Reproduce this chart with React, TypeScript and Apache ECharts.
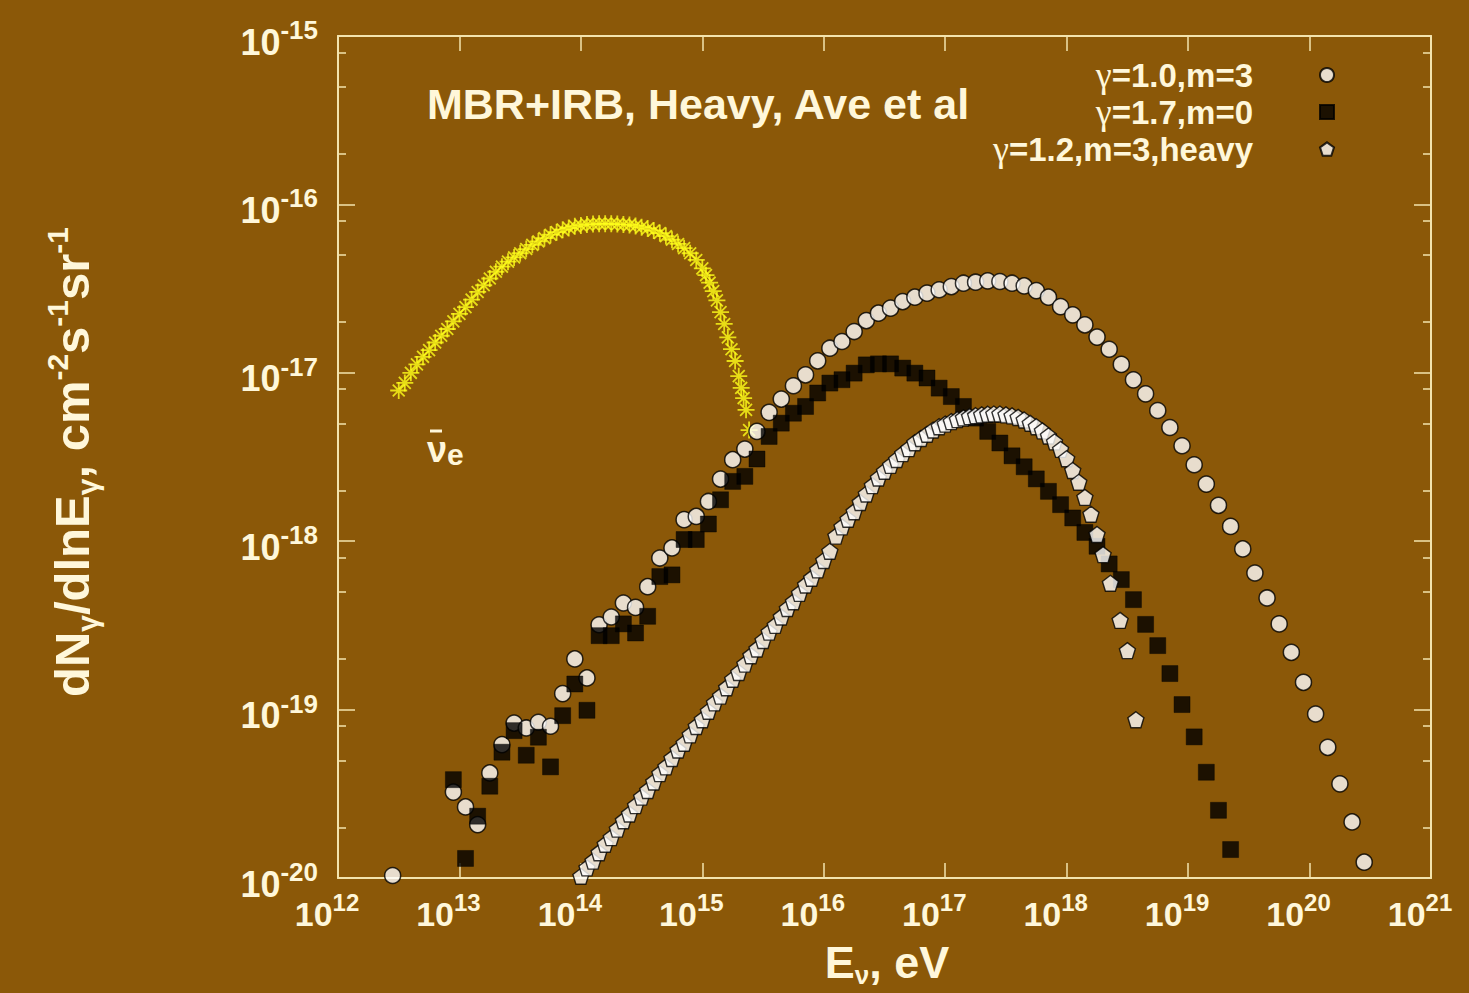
import React, { useEffect, useRef } from 'react';
import * as echarts from 'echarts';

const BG = '#8b5808';
const FG = '#fff7da';
const FRAME = '#f3e4ae';
const FONT = '"Liberation Sans", Arial, Helvetica, sans-serif';
const SERIF = '"Liberation Serif", "DejaVu Serif", serif';

// Axis tick exponents
const xTickExponents = [12, 13, 14, 15, 16, 17, 18, 19, 20, 21];
const yTickExponents = [-20, -19, -18, -17, -16, -15];
const yMinorFactors = [2, 5, 8];

// Series names
const nameA = 'γ=1.0,m=3';
const nameB = 'γ=1.7,m=0';
const nameC = 'γ=1.2,m=3,heavy';

// anti-electron neutrino curve (log10 E/eV, log10 flux)
const nuebarLogE = [12.5, 12.55, 12.6, 12.65, 12.7, 12.75, 12.8, 12.85, 12.9, 12.95, 13.0, 13.05, 13.1, 13.15, 13.2, 13.25, 13.3, 13.35, 13.4, 13.45, 13.5, 13.55, 13.6, 13.65, 13.7, 13.75, 13.8, 13.85, 13.9, 13.95, 14.0, 14.05, 14.1, 14.15, 14.2, 14.25, 14.3, 14.35, 14.4, 14.45, 14.5, 14.55, 14.6, 14.65, 14.7, 14.75, 14.8, 14.85, 14.9, 14.95, 15.0, 15.03, 15.06, 15.09, 15.12, 15.15, 15.18, 15.21, 15.24, 15.27, 15.3, 15.32, 15.34, 15.36, 15.385];
const nuebarLogFlux = [-17.105, -17.06, -17.0, -16.95, -16.905, -16.865, -16.82, -16.78, -16.74, -16.695, -16.65, -16.61, -16.565, -16.52, -16.48, -16.44, -16.4, -16.37, -16.34, -16.315, -16.29, -16.265, -16.24, -16.22, -16.2, -16.18, -16.165, -16.15, -16.14, -16.13, -16.125, -16.12, -16.117, -16.115, -16.115, -16.115, -16.117, -16.12, -16.122, -16.128, -16.135, -16.143, -16.155, -16.17, -16.188, -16.21, -16.235, -16.26, -16.29, -16.33, -16.38, -16.42, -16.465, -16.515, -16.57, -16.64, -16.71, -16.79, -16.86, -16.93, -17.02, -17.09, -17.15, -17.22, -17.34];

// gamma=1.0, m=3
const aLogE = [12.45, 12.95, 13.05, 13.15, 13.25, 13.35, 13.45, 13.55, 13.65, 13.75, 13.85, 13.95, 14.05, 14.15, 14.25, 14.35, 14.45, 14.55, 14.65, 14.75, 14.85, 14.95, 15.05, 15.15, 15.25, 15.35, 15.45, 15.55, 15.65, 15.75, 15.85, 15.95, 16.05, 16.15, 16.25, 16.35, 16.45, 16.55, 16.65, 16.75, 16.85, 16.95, 17.05, 17.15, 17.25, 17.35, 17.45, 17.55, 17.65, 17.75, 17.85, 17.95, 18.05, 18.15, 18.25, 18.35, 18.45, 18.55, 18.65, 18.75, 18.85, 18.95, 19.05, 19.15, 19.25, 19.35, 19.45, 19.55, 19.65, 19.75, 19.85, 19.95, 20.05, 20.15, 20.25, 20.35, 20.45];
const aLogFlux = [-19.985, -19.49, -19.578, -19.683, -19.376, -19.208, -19.08, -19.109, -19.075, -19.099, -18.905, -18.699, -18.812, -18.496, -18.45, -18.367, -18.393, -18.27, -18.1, -18.04, -17.872, -17.853, -17.764, -17.631, -17.516, -17.453, -17.348, -17.235, -17.156, -17.077, -17.012, -16.929, -16.854, -16.814, -16.755, -16.69, -16.646, -16.616, -16.577, -16.551, -16.527, -16.507, -16.488, -16.468, -16.462, -16.454, -16.458, -16.468, -16.484, -16.512, -16.551, -16.607, -16.656, -16.715, -16.788, -16.86, -16.95, -17.042, -17.125, -17.224, -17.325, -17.433, -17.546, -17.661, -17.787, -17.912, -18.046, -18.189, -18.337, -18.491, -18.66, -18.838, -19.026, -19.224, -19.441, -19.667, -19.906];

// gamma=1.7, m=0
const bLogE = [12.95, 13.05, 13.15, 13.25, 13.35, 13.45, 13.55, 13.65, 13.75, 13.85, 13.95, 14.05, 14.15, 14.25, 14.35, 14.45, 14.55, 14.65, 14.75, 14.85, 14.95, 15.05, 15.15, 15.25, 15.35, 15.45, 15.55, 15.65, 15.75, 15.85, 15.95, 16.05, 16.15, 16.25, 16.35, 16.45, 16.55, 16.65, 16.75, 16.85, 16.95, 17.05, 17.15, 17.25, 17.35, 17.45, 17.55, 17.65, 17.75, 17.85, 17.95, 18.05, 18.15, 18.25, 18.35, 18.45, 18.55, 18.65, 18.75, 18.85, 18.95, 19.05, 19.15, 19.25, 19.35];
const bLogFlux = [-19.416, -19.884, -19.633, -19.455, -19.253, -19.125, -19.271, -19.164, -19.34, -19.036, -18.848, -19.004, -18.561, -18.561, -18.491, -18.545, -18.446, -18.21, -18.2, -17.99, -17.99, -17.898, -17.754, -17.645, -17.615, -17.512, -17.378, -17.299, -17.24, -17.2, -17.12, -17.061, -17.041, -17.002, -16.953, -16.947, -16.947, -16.972, -17.002, -17.031, -17.091, -17.141, -17.2, -17.269, -17.348, -17.417, -17.493, -17.558, -17.63, -17.704, -17.783, -17.862, -17.948, -18.03, -18.135, -18.228, -18.347, -18.494, -18.62, -18.786, -18.97, -19.162, -19.372, -19.598, -19.831];

// gamma=1.2, m=3, heavy
const cLogE = [14.0, 14.05, 14.1, 14.15, 14.2, 14.25, 14.3, 14.35, 14.4, 14.45, 14.5, 14.55, 14.6, 14.65, 14.7, 14.75, 14.8, 14.85, 14.9, 14.95, 15.0, 15.05, 15.1, 15.15, 15.2, 15.25, 15.3, 15.35, 15.4, 15.45, 15.5, 15.55, 15.6, 15.65, 15.7, 15.75, 15.8, 15.85, 15.9, 15.95, 16.0, 16.05, 16.1, 16.15, 16.2, 16.25, 16.3, 16.35, 16.4, 16.45, 16.5, 16.55, 16.6, 16.65, 16.7, 16.75, 16.8, 16.85, 16.9, 16.95, 17.0, 17.05, 17.1, 17.15, 17.2, 17.25, 17.3, 17.35, 17.4, 17.45, 17.5, 17.55, 17.6, 17.65, 17.7, 17.75, 17.8, 17.85, 17.9, 17.95, 18.0, 18.05, 18.1, 18.15, 18.2, 18.25, 18.3, 18.36, 18.44, 18.5, 18.57];
const cLogFlux = [-19.99, -19.94, -19.9, -19.85, -19.8, -19.76, -19.71, -19.66, -19.62, -19.57, -19.52, -19.48, -19.43, -19.38, -19.34, -19.29, -19.24, -19.2, -19.15, -19.1, -19.06, -19.01, -18.96, -18.92, -18.87, -18.82, -18.78, -18.73, -18.68, -18.64, -18.59, -18.54, -18.5, -18.45, -18.4, -18.36, -18.31, -18.26, -18.22, -18.17, -18.115, -18.06, -17.97, -17.915, -17.87, -17.825, -17.77, -17.72, -17.67, -17.625, -17.585, -17.55, -17.515, -17.48, -17.45, -17.415, -17.39, -17.365, -17.34, -17.32, -17.305, -17.29, -17.278, -17.268, -17.26, -17.255, -17.25, -17.246, -17.245, -17.245, -17.25, -17.256, -17.265, -17.28, -17.3, -17.32, -17.345, -17.375, -17.41, -17.455, -17.51, -17.58, -17.65, -17.74, -17.84, -17.96, -18.08, -18.25, -18.47, -18.65, -19.06];

const toPoints = (le: number[], lf: number[]) => le.map((e, i) => [Math.pow(10, e), Math.pow(10, lf[i])]);

const minorTickExponents: number[] = [];
yTickExponents.slice(0, -1).forEach((p) => yMinorFactors.forEach((f) => minorTickExponents.push(p + Math.log10(f))));

const powLabel = (v: number) => '{b|10}{s|' + Math.round(Math.log10(v)) + '}';
const richX = {
  b: { fontSize: 34, fontWeight: 'bold', lineHeight: 48, color: FG, fontFamily: FONT },
  s: { fontSize: 24, fontWeight: 'bold', lineHeight: 22, verticalAlign: 'top', color: FG, fontFamily: FONT },
};
const richY = {
  b: { fontSize: 36, fontWeight: 'bold', lineHeight: 50, color: FG, fontFamily: FONT },
  s: { fontSize: 26, fontWeight: 'bold', lineHeight: 24, verticalAlign: 'top', color: FG, fontFamily: FONT },
};

const PENTAGON = 'path://M0,-10L9.51,-3.09L5.88,8.09L-5.88,8.09L-9.51,-3.09Z';
const ASTERISK = 'path://M0,-10L0,10M-10,0L10,0M-7,-7L7,7M-7,7L7,-7';

const legendRowsY = [71, 108, 145];

export default function App() {
  const ref = useRef<HTMLDivElement>(null);
  useEffect(() => {
    const chart = echarts.init(ref.current!, null, { renderer: 'svg' });
    const logAxisBase = {
      type: 'log',
      logBase: 10,
      axisLine: { show: true, onZero: false, lineStyle: { color: FRAME, width: 2 } },
      axisTick: { show: true, inside: true, lineStyle: { color: FRAME, width: 1.5 } },
      splitLine: { show: false },
      minorTick: { show: false },
    };
    const legendRich = {
      g: { fontFamily: SERIF, fontSize: 36, fontWeight: 'normal', color: FG },
      t: { fontFamily: FONT, fontSize: 33, fontWeight: 'bold', color: FG },
    };
    const option: any = {
      animation: false,
      backgroundColor: BG,
      textStyle: { fontFamily: FONT },
      grid: { left: 338, top: 36, width: 1093, height: 842, containLabel: false },
      xAxis: [
        {
          ...logAxisBase,
          min: Math.pow(10, xTickExponents[0]),
          max: Math.pow(10, xTickExponents[xTickExponents.length - 1]),
          splitNumber: xTickExponents.length - 1,
          position: 'bottom',
          axisTick: { ...logAxisBase.axisTick, length: 15 },
          axisLabel: { show: true, formatter: powLabel, rich: richX, color: FG, margin: 12, padding: [0, 22, 0, 0] },
        },
        {
          ...logAxisBase,
          min: Math.pow(10, xTickExponents[0]),
          max: Math.pow(10, xTickExponents[xTickExponents.length - 1]),
          splitNumber: xTickExponents.length - 1,
          position: 'top',
          axisTick: { ...logAxisBase.axisTick, length: 15 },
          axisLabel: { show: false },
        },
      ],
      yAxis: [
        {
          ...logAxisBase,
          min: Math.pow(10, yTickExponents[0]),
          max: Math.pow(10, yTickExponents[yTickExponents.length - 1]),
          splitNumber: yTickExponents.length - 1,
          position: 'left',
          axisTick: { ...logAxisBase.axisTick, length: 17 },
          axisLabel: { show: true, formatter: powLabel, rich: richY, color: FG, margin: 20, padding: [12, 0, 0, 0] },
        },
        {
          ...logAxisBase,
          min: Math.pow(10, yTickExponents[0]),
          max: Math.pow(10, yTickExponents[yTickExponents.length - 1]),
          splitNumber: yTickExponents.length - 1,
          position: 'right',
          axisTick: { ...logAxisBase.axisTick, length: 17 },
          axisLabel: { show: false },
        },
        {
          type: 'value',
          min: yTickExponents[0],
          max: yTickExponents[yTickExponents.length - 1],
          position: 'left',
          axisLine: { show: false },
          axisTick: { show: true, inside: true, length: 8, customValues: minorTickExponents, lineStyle: { color: FRAME, width: 1.5 } },
          axisLabel: { show: false },
          splitLine: { show: false },
        },
        {
          type: 'value',
          min: yTickExponents[0],
          max: yTickExponents[yTickExponents.length - 1],
          position: 'right',
          axisLine: { show: false },
          axisTick: { show: true, inside: true, length: 8, customValues: minorTickExponents, lineStyle: { color: FRAME, width: 1.5 } },
          axisLabel: { show: false },
          splitLine: { show: false },
        },
      ],
      legend: [nameA, nameB, nameC].map((n, i) => ({
        data: [n],
        orient: 'vertical',
        align: 'right',
        right: 129,
        top: legendRowsY[i] - 19,
        itemWidth: 14,
        itemHeight: 14,
        selectedMode: false,
        formatter: (name: string) => '{g|' + name.charAt(0) + '}{t|' + name.slice(1) + '}',
        textStyle: { color: FG, fontSize: 33, fontWeight: 'bold', fontFamily: FONT, padding: [0, 62, 0, 0], rich: legendRich },
      })),
      series: [
        {
          name: 'nuebar_e',
          type: 'scatter',
          symbol: ASTERISK,
          symbolSize: 17,
          itemStyle: { color: 'rgba(0,0,0,0)', borderColor: '#ffff1a', borderWidth: 1.8 },
          data: toPoints(nuebarLogE, nuebarLogFlux),
        },
        {
          name: nameA,
          type: 'scatter',
          symbol: 'circle',
          symbolSize: 16,
          itemStyle: { color: '#ffffff', borderColor: '#000000', borderWidth: 1.5 },
          data: toPoints(aLogE, aLogFlux),
        },
        {
          name: nameB,
          type: 'scatter',
          symbol: 'rect',
          symbolSize: 16,
          itemStyle: { color: '#000000', borderColor: '#000000', borderWidth: 0.5 },
          data: toPoints(bLogE, bLogFlux),
        },
        {
          name: nameC,
          type: 'scatter',
          symbol: PENTAGON,
          symbolSize: 16,
          itemStyle: { color: '#ffffff', borderColor: '#000000', borderWidth: 1.4 },
          data: toPoints(cLogE, cLogFlux),
        },
      ],
      graphic: [
        {
          type: 'text',
          x: 427,
          y: 104,
          style: { text: 'MBR+IRB, Heavy, Ave et al', fill: FG, font: 'bold 43px ' + FONT, align: 'left', verticalAlign: 'middle' },
        },
        {
          type: 'line',
          shape: { x1: 430, y1: 431, x2: 442, y2: 431 },
          style: { stroke: FG, lineWidth: 3 },
        },
        {
          type: 'text',
          x: 427,
          y: 449,
          style: {
            text: '{v|ν}{e|e}',
            align: 'left',
            verticalAlign: 'middle',
            rich: {
              v: { fontSize: 36, fontWeight: 'bold', fill: FG, fontFamily: FONT, lineHeight: 40 },
              e: { fontSize: 30, fontWeight: 'bold', fill: FG, fontFamily: FONT, lineHeight: 26, verticalAlign: 'bottom' },
            },
          },
        },
        {
          type: 'text',
          x: 887,
          y: 962,
          style: {
            text: '{b|E}{s|ν}{b|, eV}',
            align: 'center',
            verticalAlign: 'middle',
            rich: {
              b: { fontSize: 45, fontWeight: 'bold', fill: FG, fontFamily: FONT, lineHeight: 52 },
              s: { fontSize: 26, fontWeight: 'bold', fill: FG, fontFamily: FONT, lineHeight: 22, verticalAlign: 'bottom' },
            },
          },
        },
        {
          type: 'text',
          x: 72,
          y: 462,
          rotation: Math.PI / 2,
          style: {
            text: '{b|dN}{d|γ}{b|/dlnE}{d|γ}{b|, cm}{u|-2}{b|s}{u|-1}{b|sr}{u|-1}',
            align: 'center',
            verticalAlign: 'middle',
            rich: {
              b: { fontSize: 49, fontWeight: 'bold', fill: FG, fontFamily: FONT, lineHeight: 60 },
              d: { fontSize: 30, fontWeight: 'bold', fill: FG, fontFamily: FONT, lineHeight: 26, verticalAlign: 'bottom' },
              u: { fontSize: 30, fontWeight: 'bold', fill: FG, fontFamily: FONT, lineHeight: 26, verticalAlign: 'top' },
            },
          },
        },
      ],
    };
    chart.setOption(option);
    return () => chart.dispose();
  }, []);
  return <div ref={ref} style={{ position: 'absolute', left: 0, top: 0, width: 1469, height: 993 }} />;
}
